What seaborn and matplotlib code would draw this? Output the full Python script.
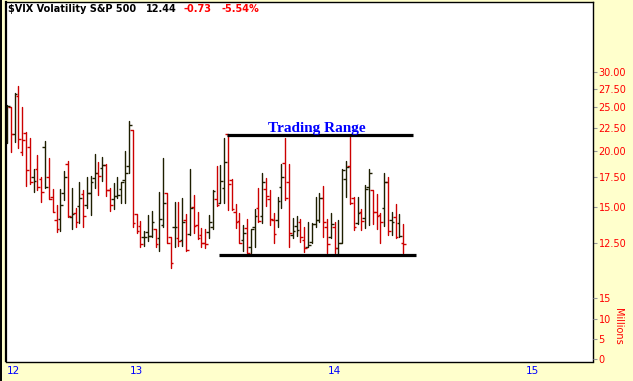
import numpy as np
import pandas as pd
import seaborn as sns
import matplotlib
matplotlib.use("Agg")
import matplotlib.pyplot as plt
from matplotlib.lines import Line2D
from matplotlib.ticker import NullLocator, FixedFormatter

# weekly OHLC of $VIX
opens = [21.50, 25.07, 21.83, 26.52, 19.91, 21.94, 20.43, 17.52, 18.26, 17.35,
         20.43, 17.52, 15.82, 14.07, 14.14, 16.14, 18.73, 14.28, 14.57, 15.11,
         16.06, 15.18, 16.14, 17.44, 17.88, 18.35, 18.63, 16.40, 15.66, 15.90,
         16.48, 17.26, 18.54, 22.29, 14.50, 13.64, 12.89, 13.22, 12.96, 13.43,
         12.83, 13.71, 16.14, 12.89, 13.57, 12.83, 12.70, 14.07, 13.09, 15.03,
         13.71, 13.02, 12.50, 13.22, 13.57, 15.60, 15.34, 16.57, 21.83, 17.26,
         14.65, 13.99, 12.70, 13.50, 12.25, 13.57, 14.96, 14.36, 16.48, 15.66,
         14.07, 14.07, 16.65, 18.82, 17.08, 13.02, 13.64, 13.92, 12.70, 12.25,
         12.57, 13.78, 14.07, 15.74, 13.57, 12.89, 13.57, 12.19, 12.50, 17.35,
         18.54, 15.74, 13.85, 14.65, 14.21, 16.65, 16.40, 14.65, 14.43, 14.96,
         17.08, 14.07, 14.28, 13.85, 12.45]
highs = [25.33, 25.07, 26.92, 27.91, 25.07, 22.05, 21.39, 18.26, 19.61, 17.52,
         21.06, 19.31, 16.48, 15.18, 16.48, 18.07, 19.02, 16.57, 14.96, 17.08,
         16.40, 17.52, 17.61, 19.71, 18.92, 19.41, 18.73, 16.57, 16.99, 17.52,
         17.08, 20.02, 23.34, 22.29, 14.50, 13.99, 13.29, 14.43, 14.73, 13.43,
         16.23, 19.31, 16.14, 12.89, 15.42, 15.42, 15.74, 14.50, 18.26, 15.98,
         14.65, 13.50, 13.43, 14.43, 16.40, 18.54, 18.63, 21.39, 21.83, 17.35,
         15.26, 14.57, 13.71, 14.14, 13.43, 14.88, 16.57, 17.88, 17.44, 16.40,
         14.57, 15.82, 18.73, 21.39, 18.73, 14.21, 14.36, 14.14, 13.57, 13.92,
         13.85, 15.82, 16.14, 16.74, 14.14, 14.57, 13.92, 14.07, 18.26, 19.02,
         21.50, 15.82, 15.82, 14.88, 16.82, 18.26, 16.40, 16.06, 14.57, 17.88,
         17.52, 14.65, 15.26, 14.50, 13.78]
lows = [20.85, 19.91, 20.96, 20.33, 19.61, 16.74, 16.91, 16.23, 16.40, 15.42,
        16.57, 15.66, 14.65, 13.22, 13.29, 15.58, 14.28, 13.43, 13.57, 13.85,
        13.57, 14.96, 14.43, 16.57, 15.98, 17.17, 15.90, 14.73, 14.88, 15.74,
        15.34, 15.34, 17.88, 13.57, 13.16, 12.25, 12.31, 12.63, 12.89, 12.25,
        12.00, 13.57, 12.50, 11.00, 12.25, 12.31, 12.31, 12.00, 13.02, 13.16,
        12.76, 12.25, 12.19, 12.83, 13.43, 15.11, 15.34, 15.34, 14.80, 14.80,
        13.50, 12.50, 12.00, 11.88, 11.88, 12.25, 13.92, 13.85, 15.11, 13.71,
        12.50, 13.57, 14.96, 15.58, 12.25, 12.83, 12.96, 12.57, 11.94, 12.25,
        12.50, 13.57, 13.92, 12.89, 11.88, 12.83, 11.88, 11.82, 12.50, 15.82,
        15.26, 13.36, 13.78, 13.36, 13.50, 13.71, 13.78, 13.43, 12.50, 13.64,
        13.02, 13.02, 12.83, 12.89, 11.88]
closes = [25.20, 21.83, 26.79, 21.28, 21.17, 18.16, 17.08, 17.17, 16.65, 16.23,
          16.65, 15.66, 14.65, 13.43, 15.18, 17.52, 14.36, 14.50, 13.92, 15.74,
          14.36, 16.14, 17.08, 17.88, 17.61, 18.63, 16.40, 15.18, 15.90, 15.95,
          17.08, 17.88, 22.86, 13.85, 13.29, 12.44, 12.89, 12.92, 13.92, 12.44,
          14.14, 15.34, 12.50, 11.29, 13.57, 12.63, 13.92, 12.06, 14.96, 13.64,
          12.83, 12.50, 12.44, 13.92, 16.31, 15.18, 17.17, 18.92, 16.91, 14.88,
          13.92, 12.50, 13.16, 11.88, 13.43, 14.36, 13.99, 17.08, 15.90, 14.14,
          13.09, 15.50, 17.52, 15.74, 13.16, 13.29, 13.36, 12.89, 12.19, 12.38,
          13.78, 14.07, 15.74, 13.92, 12.44, 13.78, 12.13, 12.50, 18.16, 18.45,
          15.34, 13.57, 14.57, 13.99, 16.48, 17.88, 14.65, 14.36, 13.92, 17.08,
          13.29, 13.92, 12.89, 12.92, 12.44]
# 1 = black (up) bar, 0 = red (down) bar
up = [1, 0, 1, 0, 0, 0, 0, 1, 0, 0, 1, 0, 0, 0, 1, 1, 0, 1, 0, 1,
      0, 1, 1, 1, 0, 1, 0, 0, 1, 1, 1, 1, 1, 0, 0, 0, 1, 1, 1, 0,
      1, 1, 0, 0, 1, 0, 1, 0, 1, 0, 0, 0, 0, 1, 1, 0, 1, 1, 0, 0,
      0, 0, 1, 0, 1, 1, 0, 1, 0, 0, 0, 1, 1, 0, 0, 1, 1, 0, 0, 1,
      1, 1, 1, 0, 0, 1, 0, 1, 1, 1, 0, 0, 1, 0, 1, 1, 0, 0, 0, 1,
      0, 1, 0, 1, 0]

price_ticks = [12.5, 15, 17.5, 20, 22.5, 25, 27.5, 30]
volume_ticks = [0, 5, 10, 15]
year_labels = ["12", "13", "14", "15"]
year_starts = [0, 33.9, 85.9, 137.9]

range_high = 21.72
range_low = 11.76
range_high_bars = (57.7, 106.6)
range_low_bars = (55.6, 107.3)

RED = "#cc0000"
DARK = "#1e1e00"

sns.set_theme(style="white")
plt.rcParams["font.family"] = ["DejaVu Sans"]

df = pd.DataFrame({"open": opens, "high": highs, "low": lows,
                   "close": closes, "up": up})
df["bar"] = np.arange(len(df))
df["dir"] = np.where(df["up"] == 1, "up", "down")

long = df.melt(id_vars=["bar", "dir"], value_vars=["low", "high"],
               value_name="price")

fig = plt.figure(figsize=(6.33, 3.81), dpi=100, facecolor="#ffffcc")
ax = fig.add_axes([6 / 633, 19.5 / 381, 587 / 633, 359.2 / 381])
ax.set_facecolor("white")
ax.set_yscale("log")

sns.lineplot(data=long, x="bar", y="price", units="bar", estimator=None,
             hue="dir", palette={"up": DARK, "down": RED}, legend=False,
             lw=1.0, ax=ax)
cols = [DARK if u else RED for u in df["up"]]
ax.hlines(df["open"], df["bar"] - 0.7, df["bar"], colors=cols, lw=1.0)
ax.hlines(df["close"], df["bar"], df["bar"] + 0.7, colors=cols, lw=1.0)

# trading range annotation
ax.plot(range_high_bars, [range_high] * 2, color="black", lw=2.3,
        solid_capstyle="butt")
ax.plot(range_low_bars, [range_low] * 2, color="black", lw=2.3,
        solid_capstyle="butt")
ax.text(81.4, 22.05, "Trading Range", color="#0000ff", fontsize=11,
        fontweight="bold", family=["Liberation Serif", "DejaVu Serif"],
        ha="center", va="baseline")

ax.set_xlim(-0.26, 153.8)
ax.set_ylim(6.80, 42.8)
ax.set_xlabel("")
ax.set_ylabel("")

ax.set_xticks(year_starts)
ax.set_xticklabels(year_labels)
ax.get_xticklabels()[0].set_ha("left")
ax.tick_params(axis="x", length=3, width=0.8, color="#999999",
               direction="inout", labelcolor="#0000ff", labelsize=7.5, pad=1.5)

for side in ["top", "right", "bottom"]:
    ax.spines[side].set_color("black")
    ax.spines[side].set_linewidth(1.0)
ax.spines["left"].set_color("black")
ax.spines["left"].set_linewidth(1.6)

ax2 = ax.twinx()
ax2.set_ylim(-0.54, 87.8)
ax2.set_yticks(volume_ticks)
ax2.tick_params(axis="y", length=3, width=0.8, color="#999999",
                labelcolor="#ff0000", labelsize=7, pad=1)
for s in ax2.spines.values():
    s.set_visible(False)
ax2.set_ylabel("Millions", rotation=270, color="#ff0000", fontsize=7)
ax2.yaxis.set_label_coords(1.0426, 0.097)
ax2.yaxis.label.set_va("center")
ax2.yaxis.label.set_ha("center")

# price scale on the right (after twinx, which moves it left)
ax.yaxis.set_minor_locator(NullLocator())
ax.set_yticks(price_ticks)
ax.yaxis.set_major_formatter(FixedFormatter(["%.2f" % v for v in price_ticks]))
ax.yaxis.tick_right()
ax.tick_params(axis="y", which="both", length=3, width=0.8, color="#999999",
               labelcolor="#ff0000", labelsize=7, pad=1)

fig.add_artist(Line2D([0.0015, 0.0015], [0, 1], transform=fig.transFigure,
                      color="black", lw=1.4))

ty = 1 - 9.5 / 381
fig.text(8 / 633, ty, "$VIX Volatility S&P 500", fontsize=7,
         fontweight="bold", color="black", va="center")
fig.text(146 / 633, ty, "12.44", fontsize=7, fontweight="bold",
         color="black", va="center")
fig.text(184 / 633, ty, "-0.73", fontsize=7, fontweight="bold",
         color="#ff0000", va="center")
fig.text(221.5 / 633, ty, "-5.54%", fontsize=7, fontweight="bold",
         color="#ff0000", va="center")

fig.savefig("out.png", dpi=100, facecolor=fig.get_facecolor())
